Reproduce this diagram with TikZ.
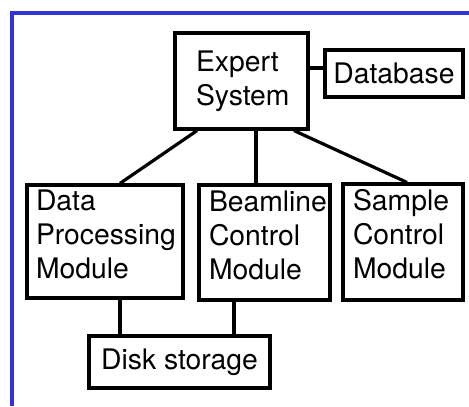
\documentclass[tikz,border=0pt]{standalone}
\usepackage{fontspec}
\setmainfont{TeX Gyre Heros}
\usepackage{xcolor}
\usepackage{tikz}
\usetikzlibrary{positioning,calc}
\definecolor{frameblue}{RGB}{52,52,214}

\begin{document}
\begin{tikzpicture}[x=0.5pt,y=-0.5pt,
   font=\fontsize{14.15}{17}\selectfont,
   bx/.style={draw,rectangle,line width=1.6pt,inner sep=0pt},
   md/.style={bx,align=left,text height=10pt,text depth=41.5pt},
   ln/.style={line width=1.6pt}]
  \useasboundingbox (0,0) rectangle (469,406);
  \draw[frameblue,line width=2pt] (12,406) -- (12,13.5) -- (469,13.5);
  \node[bx,align=left,minimum width=66.5pt,minimum height=48pt,text width=45.5pt] (es) at (241.5,81) {Expert\\System};
  \node[bx,minimum width=69pt,minimum height=23.5pt] (db) at (394,73.5) {Database};
  \node[md,minimum width=78pt,minimum height=56.5pt,text width=69pt] (dp) at (105,241.5) {Data\\Processing\\Module};
  \node[md,minimum width=65.5pt,minimum height=57.5pt,text width=55.5pt] (bc) at (264.5,242.5) {Beamline\\Control\\Module};
  \node[md,minimum width=60pt,minimum height=58pt,text width=50pt] (sc) at (403,242) {Sample\\Control\\Module};
  \node[bx,minimum width=90.5pt,minimum height=26pt] (ds) at (179.5,362) {Disk storage};
  \draw[ln] ([yshift=2.75pt]db.west) -- ([yshift=2.75pt]db.west -| es.east);
  \draw[ln] ([xshift=-22.25pt]es.south) -- ([xshift=7.5pt]dp.north);
  \draw[ln] ([xshift=7.25pt]es.south) -- ([xshift=7.25pt]es.south |- bc.north);
  \draw[ln] ([xshift=26.25pt]es.south) -- ([xshift=2pt]sc.north);
  \draw[ln] ([xshift=7.5pt]dp.south) -- ([xshift=7.5pt]dp.south |- ds.north);
  \draw[ln] ([xshift=-15.25pt]bc.south) -- ([xshift=-15.25pt]bc.south |- ds.north);
\end{tikzpicture}
\end{document}
